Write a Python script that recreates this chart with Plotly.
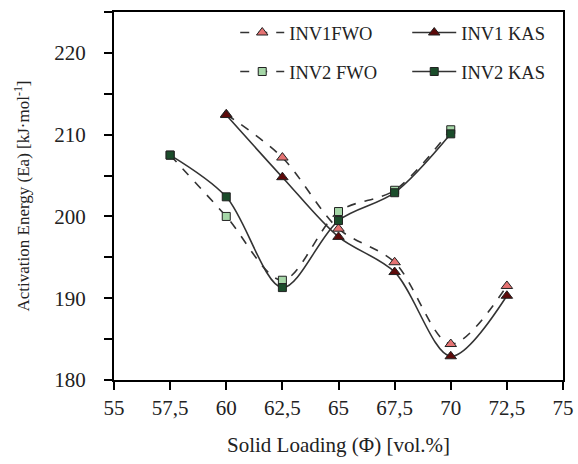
import plotly.graph_objects as go

x_inv1 = [60, 62.5, 65, 67.5, 70, 72.5]
inv1_fwo = [212.5, 207.2, 198.5, 194.4, 184.4, 191.5]
inv1_kas = [212.4, 204.8, 197.5, 193.2, 182.9, 190.3]
x_inv2 = [57.5, 60, 62.5, 65, 67.5, 70]
inv2_fwo = [207.5, 200.0, 192.2, 200.6, 203.2, 210.6]
inv2_kas = [207.5, 202.4, 191.3, 199.5, 202.9, 210.1]

x_ticks = [55, 57.5, 60, 62.5, 65, 67.5, 70, 72.5, 75]
x_labels = ["55", "57,5", "60", "62,5", "65", "67,5", "70", "72,5", "75"]
y_ticks = [180, 190, 200, 210, 220]

FONT = "Liberation Serif"
fig = go.Figure()

def add(x, y, name, dash, sym, fill, legend):
    fig.add_trace(go.Scatter(
        x=x, y=y, name=name, mode="lines+markers",
        line=dict(color="#333333", width=1.6, dash=dash, shape="spline", smoothing=0.9),
        marker=dict(symbol=sym, size=10 if sym == "triangle-up" else 8, color=fill,
                    line=dict(color="#222222", width=1)),
        legend=legend,
    ))

add(x_inv1, inv1_fwo, "INV1FWO", "dash", "triangle-up", "#e57373", "legend")
add(x_inv1, inv1_kas, "INV1 KAS", "solid", "triangle-up", "#5c0a0a", "legend")
add(x_inv2, inv2_fwo, "INV2 FWO", "dash", "square", "#a5d6a7", "legend2")
add(x_inv2, inv2_kas, "INV2 KAS", "solid", "square", "#1b4d2b", "legend2")

leg_common = dict(orientation="h", xanchor="left", yanchor="middle",
                  font=dict(family=FONT, size=18.5, color="#222222"),
                  bgcolor="rgba(0,0,0,0)", entrywidth=113, itemwidth=44,
                  traceorder="normal")

fig.update_layout(
    width=578, height=464,
    margin=dict(l=114, r=15, t=12, b=84, autoexpand=False),
    paper_bgcolor="white", plot_bgcolor="white",
    font=dict(family=FONT, color="#222222"),
    legend=dict(x=0.27, y=0.943, **leg_common),
    legend2=dict(x=0.27, y=0.837, **leg_common),
    xaxis=dict(
        range=[55, 75], tickvals=x_ticks, ticktext=x_labels, automargin=False,
        showgrid=False, zeroline=False, showline=True, linecolor="black", linewidth=2,
        mirror=True, ticks="outside", ticklen=8, tickwidth=1.5, tickcolor="black",
        tickfont=dict(family=FONT, size=21, color="#222222"),
        title=dict(text="Solid Loading (Φ) [vol.%]", font=dict(family=FONT, size=21, color="#222222"), standoff=18),
    ),
    yaxis=dict(
        range=[180, 225], tickvals=y_ticks, automargin=False,
        showgrid=False, zeroline=False, showline=True, linecolor="black", linewidth=2,
        mirror=True, ticks="outside", ticklen=8, tickwidth=1.5, tickcolor="black",
        ticklabelstandoff=14,
        tickfont=dict(family=FONT, size=21, color="#222222"),
        minor=dict(dtick=5, tick0=180, ticks="outside", ticklen=8, tickwidth=1.5, tickcolor="black"),
        title=dict(text="Activation Energy (Ea) [kJ·mol<sup>-1</sup>]", font=dict(family=FONT, size=17, color="#222222"), standoff=20),
    ),
)

fig.write_html("out.html")
